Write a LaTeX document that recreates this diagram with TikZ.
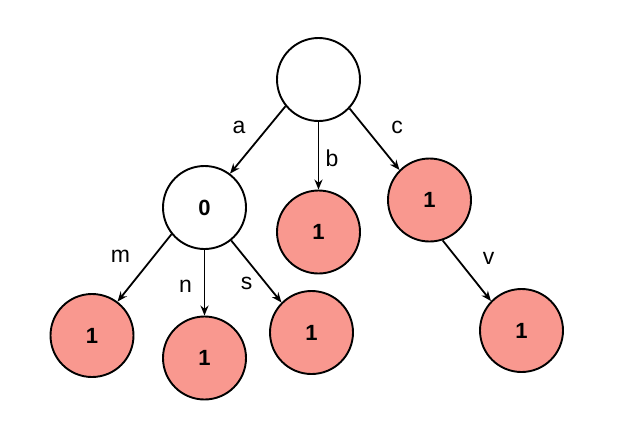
\documentclass[tikz,border=0pt]{standalone}
\usepackage{fontspec}
\setmainfont{Liberation Sans}
\usetikzlibrary{arrows.meta}
\definecolor{ink}{HTML}{000000}
\definecolor{salmon}{HTML}{F9988F}
\tikzset{
  trienode/.style={circle,draw=ink,fill=white,line width=1.9pt,minimum size=83pt,inner sep=0pt,font=\fontsize{22}{26}\selectfont\bfseries},
  leafnode/.style={trienode,fill=salmon},
  edgearrow/.style={-{Stealth[length=10pt,width=8pt]},line width=1.8pt,draw=ink},
  edgelabel/.style={font=\fontsize{23}{26}\selectfont,inner sep=0pt}
}

\begin{document}
\begin{tikzpicture}[x=1pt,y=-1pt]
  \useasboundingbox (0,0) rectangle (619,423);
  % nodes
  \node[trienode] (root) at (318.5,79.5) {};
  \node[trienode] (na) at (204.5,207.5) {0};
  \node[leafnode] (nb) at (318.5,232) {1};
  \node[leafnode] (nc) at (429.5,200) {1};
  \node[leafnode] (nm) at (92,335.5) {1};
  \node[leafnode] (nn) at (204.5,358) {1};
  \node[leafnode] (ns) at (311.5,332.5) {1};
  \node[leafnode] (nv) at (521.5,330.5) {1};
  % edges
  \draw[edgearrow] (root.219) -- (na.53);
  \draw[edgearrow] (root) -- (nb);
  \draw[edgearrow] (root.-43) -- (nc.135);
  \draw[edgearrow] (na.219) -- (nm.53);
  \draw[edgearrow] (na) -- (nn);
  \draw[edgearrow] (na.-51) -- (ns.135);
  \draw[edgearrow] (nc.-72) -- (nv.136);
  % labels
  \node[edgelabel] (la) at (239,127) {a};
  \node[edgelabel] (lb) at (332,158) {b};
  \node[edgelabel] (lc) at (397,127.5) {c};
  \node[edgelabel] (lm) at (120.5,256.5) {m};
  \node[edgelabel] (ln) at (185.5,286.5) {n};
  \node[edgelabel] (ls) at (246.5,283.5) {s};
  \node[edgelabel] (lv) at (488.5,258.5) {v};
\end{tikzpicture}
\end{document}
